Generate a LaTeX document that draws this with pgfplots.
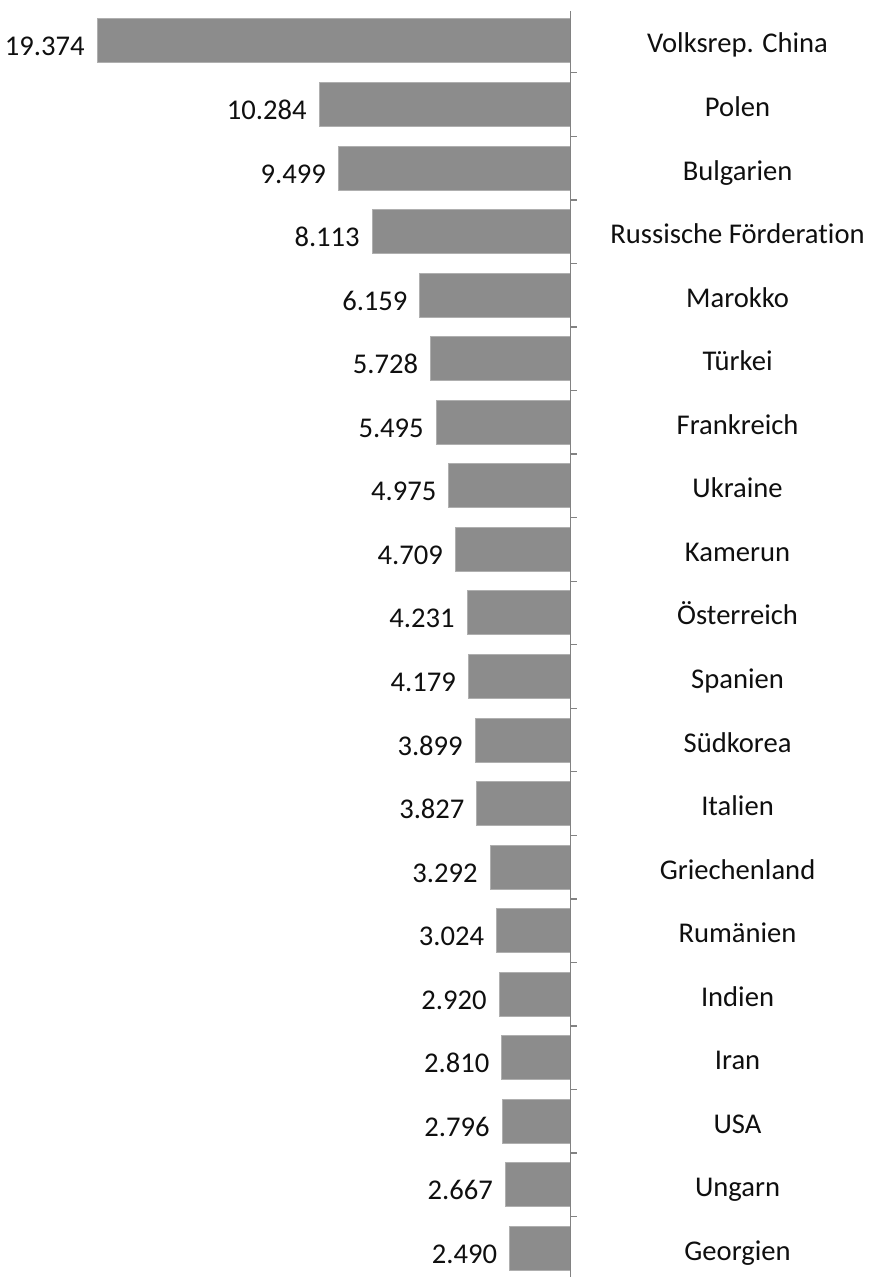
\documentclass[border=0pt]{standalone}
\usepackage{fontspec}
\setmainfont{Carlito}[Ligatures={NoCommon}]
\usepackage{pgfplots}
\pgfplotsset{compat=1.18}
\usepackage{pgfplotstable}
\definecolor{barfill}{RGB}{140,140,140}
\definecolor{baredge}{RGB}{175,175,175}
\definecolor{axisgray}{RGB}{130,130,130}
\definecolor{txt}{RGB}{15,15,15}

\pgfplotstableread[col sep=comma]{
idx,val,lab,name
0,19.374,19.374,Volksrep. China
1,10.284,10.284,Polen
2,9.499,9.499,Bulgarien
3,8.113,8.113,Russische Förderation
4,6.159,6.159,Marokko
5,5.728,5.728,Türkei
6,5.495,5.495,Frankreich
7,4.975,4.975,Ukraine
8,4.709,4.709,Kamerun
9,4.231,4.231,Österreich
10,4.179,4.179,Spanien
11,3.899,3.899,Südkorea
12,3.827,3.827,Italien
13,3.292,3.292,Griechenland
14,3.024,3.024,Rumänien
15,2.920,2.920,Indien
16,2.810,2.810,Iran
17,2.796,2.796,USA
18,2.667,2.667,Ungarn
19,2.490,2.490,Georgien
}\datatable

\begin{document}
\begin{tikzpicture}
\begin{axis}[
  scale only axis,
  width=434.5pt, height=638.5pt,
  xmin=-23.343, xmax=12.213,
  ymin=-0.645, ymax=19.45,
  y dir=reverse,
  clip=false,
  hide x axis,
  y axis line style={draw=none},
  major y tick style={draw=none},
  ytick={0,...,19},
  yticklabels from table={\datatable}{name},
  yticklabel pos=right,
  yticklabel style={anchor=base, xshift=-70pt, yshift=-6pt, text=txt,
    font=\fontsize{14.3pt}{17pt}\selectfont},
  xbar, bar width=22pt,
  point meta=explicit symbolic,
  nodes near coords,
  nodes near coords style={anchor=base east, inner sep=0pt, xshift=-6pt, yshift=-7.5pt, text=txt,
    font=\fontsize{14.3pt}{17pt}\selectfont},
]
\addplot[fill=barfill, draw=baredge, line width=0.5pt]
  table[x expr=-\thisrow{val}, y=idx, meta=lab] {\datatable};
\draw[axisgray, line width=0.65pt] (axis cs:0,-0.47) -- (axis cs:0,19.45);
\pgfplotsinvokeforeach{0.5,1.5,2.5,3.5,4.5,5.5,6.5,7.5,8.5,9.5,10.5,11.5,12.5,13.5,14.5,15.5,16.5,17.5,18.5}{
  \draw[axisgray, line width=0.65pt] (axis cs:0,#1) -- ++(3.25pt,0pt);
}
\end{axis}
\pgfresetboundingbox
\useasboundingbox (current axis.south west) rectangle (current axis.north east);
\end{tikzpicture}
\end{document}
